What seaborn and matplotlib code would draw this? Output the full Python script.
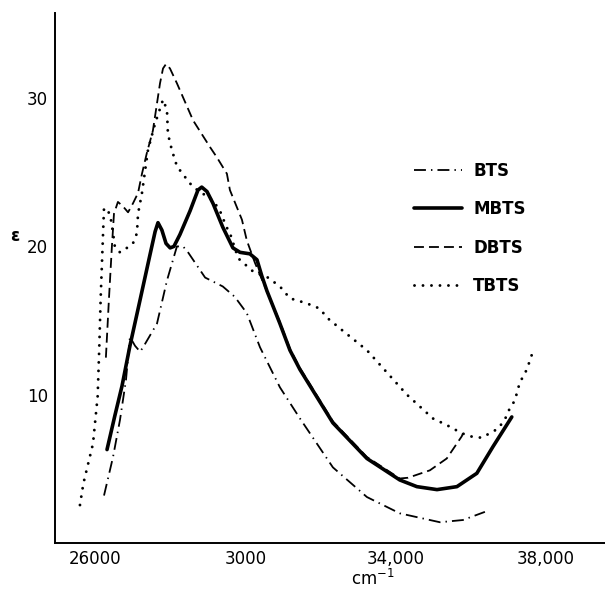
import matplotlib
matplotlib.use("Agg")
import matplotlib.pyplot as plt
import seaborn as sns
import pandas as pd

# ---- data (wavenumber in cm^-1, epsilon) ----
bts_x = [26240, 26480, 26665, 26825, 26930, 27065, 27200, 27280, 27650, 27915, 28180,
         28340, 28450, 28930, 29400, 29720, 30040, 30390, 30920, 31453, 32330, 33235,
         34110, 35177, 35790, 36375]
bts_y = [3.2, 5.8, 8.3, 11.0, 13.9, 13.3, 12.9, 13.2, 14.8, 17.7, 20.0,
         20.0, 19.7, 17.9, 17.3, 16.6, 15.5, 13.2, 10.5, 8.4, 5.1, 3.1,
         2.0, 1.4, 1.55, 2.1]

mbts_x = [26320, 26530, 26720, 26930, 27200, 27460, 27600, 27676, 27780, 27890, 28000,
          28100, 28260, 28530, 28740, 28840, 28980, 29140, 29400, 29670, 29860, 30120,
          30310, 30440, 30575, 30920, 31187, 31453, 32330, 33235, 34110, 34565, 35100,
          35630, 36160, 36590, 37090]
mbts_y = [6.3, 8.6, 10.6, 13.3, 16.4, 19.4, 21.0, 21.6, 21.1, 20.2, 19.9,
          20.0, 20.8, 22.4, 23.8, 24.0, 23.7, 22.9, 21.3, 19.9, 19.6, 19.5,
          19.1, 18.0, 17.0, 14.8, 13.0, 11.7, 8.1, 5.7, 4.25, 3.8, 3.6,
          3.8, 4.7, 6.5, 8.5]

dbts_x = [26290, 26370, 26450, 26505, 26610, 26745, 26880, 27010, 27145, 27250, 27380,
          27540, 27730, 27810, 27890, 27995, 28180, 28610, 29060, 29245, 29510, 29590,
          29910, 30040, 30255, 30470, 30920, 31187, 31453, 32330, 33235, 34110, 34330,
          34910, 35360, 35760, 35790]
dbts_y = [12.5, 16.4, 20.0, 22.2, 23.0, 22.7, 22.3, 22.9, 23.6, 24.9, 26.3,
          27.8, 31.0, 32.0, 32.3, 32.0, 31.0, 28.5, 26.7, 26.0, 24.9, 23.8,
          21.8, 20.4, 18.9, 17.6, 14.9, 13.1, 11.8, 8.2, 5.8, 4.35, 4.4,
          4.9, 5.7, 7.2, 7.4]

tbts_x = [25600, 25690, 25947, 26071, 26114, 26152, 26205, 26240, 26400, 26480, 26530,
          26665, 26850, 27010, 27117, 27145, 27250, 27410, 27600, 27810, 27915, 27940,
          28045, 28181, 28450, 28610, 29140, 29325, 29500, 29590, 29810, 30210, 30600,
          30920, 31187, 31586, 31800, 31985, 32170, 32600, 33235, 33767, 34300, 34645,
          34990, 35360, 35760, 36055, 36300, 36500, 36720, 36900, 37040, 37170, 37300,
          37490, 37650]
tbts_y = [2.56, 4.0, 6.7, 9.9, 13.2, 16.6, 20.2, 22.6, 22.2, 20.9, 19.95,
          19.6, 19.9, 20.2, 20.9, 22.2, 23.6, 26.5, 28.3, 29.9, 29.2, 27.6,
          26.5, 25.4, 24.5, 24.0, 23.1, 22.4, 21.3, 20.9, 19.2, 18.3, 17.9,
          17.3, 16.5, 16.2, 16.0, 15.8, 15.2, 14.3, 13.0, 11.5, 10.0, 9.2,
          8.4, 7.95, 7.4, 7.15, 7.1, 7.4, 7.7, 8.3, 9.1, 9.6, 10.8,
          11.7, 12.9]

x_ticks = [26000, 30000, 34000, 38000]
x_tick_labels = ["26000", "3000", "34,000", "38,000"]
y_ticks = [10, 20, 30]
y_tick_labels = ["10", "20", "30"]

series_names = ["BTS", "MBTS", "DBTS", "TBTS"]

# ---- styling ----
sns.set_theme(style="white")
plt.rcParams['font.family'] = ['DejaVu Sans']
plt.rcParams['text.color'] = 'black'
plt.rcParams['axes.labelcolor'] = 'black'
plt.rcParams['xtick.color'] = 'black'
plt.rcParams['ytick.color'] = 'black'

fig = plt.figure(figsize=(6.05, 5.91), dpi=100)
ax = fig.add_axes([55 / 605, 48 / 591, 550 / 605, 530 / 591])

styles = {
    "BTS": dict(linewidth=1.3, linestyle=(0, (6.6, 2.8, 0.8, 2.8))),
    "MBTS": dict(linewidth=2.6, linestyle="-"),
    "DBTS": dict(linewidth=1.3, linestyle=(0, (5.5, 2.8))),
    "TBTS": dict(linewidth=2.1, linestyle=(0, (0.01, 2.9)), dash_capstyle="round"),
}
data = {
    "BTS": (bts_x, bts_y),
    "MBTS": (mbts_x, mbts_y),
    "DBTS": (dbts_x, dbts_y),
    "TBTS": (tbts_x, tbts_y),
}

for name in series_names:
    xs, ys = data[name]
    df = pd.DataFrame({"x": xs, "y": ys})
    sns.lineplot(data=df, x="x", y="y", ax=ax, color="black", sort=False,
                 estimator=None, label=name, **styles[name])

ax.set_xlim(24936, 39570)
ax.set_ylim(0, 35.74)
ax.set_xticks(x_ticks)
ax.set_xticklabels(x_tick_labels)
ax.set_yticks(y_ticks)
ax.set_yticklabels(y_tick_labels)
ax.set_xlabel("")
ax.set_ylabel("")

for side in ["top", "right"]:
    ax.spines[side].set_visible(False)
for side in ["left", "bottom"]:
    ax.spines[side].set_color("black")
    ax.spines[side].set_linewidth(1.4)

ax.tick_params(axis="both", direction="in", length=8, width=1.4, color="black",
               labelsize=12, labelcolor="black", pad=5)
ax.tick_params(axis="x", pad=5)

leg = ax.legend(loc="upper left", bbox_to_anchor=(414 / 605, 1 - 162 / 591),
                bbox_transform=fig.transFigure, frameon=False, fontsize=12,
                handlelength=2.9, handletextpad=0.65, labelspacing=1.22,
                borderpad=0, borderaxespad=0)
for t in leg.get_texts():
    t.set_fontweight("bold")
    t.set_color("black")

fig.text(10 / 605, 1 - 236 / 591, "ε", fontsize=12, fontweight="bold",
         ha="left", va="center", color="black")
fig.text(373 / 605, 1 - 579 / 591, "cm$^{-1}$", fontsize=12, ha="center",
         va="center", color="black")

fig.savefig("out.png", dpi=100)
